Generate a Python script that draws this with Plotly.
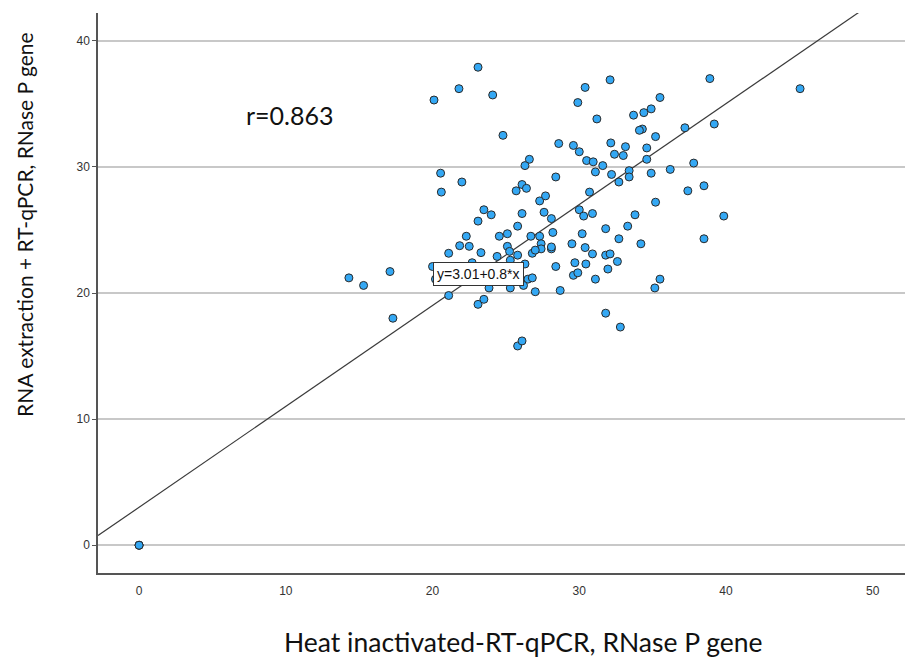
import plotly.graph_objects as go

# Heat inactivated RT-qPCR (x) vs RNA extraction + RT-qPCR (y), RNase P gene
heat_ct = [20.1, 21.8, 23.1, 24.1, 24.8, 26.6, 26.3, 20.55, 22.0, 20.6,
           26.1, 26.4, 25.7, 27.3, 27.7, 28.4, 28.6, 29.6, 30.0, 29.9,
           30.4, 32.1, 31.2, 30.5, 30.95, 31.1, 31.6, 32.2, 30.7, 32.7,
           32.15, 32.4, 33.15, 33.0, 33.4, 33.4, 33.7, 34.4, 34.9, 35.5,
           34.3, 34.1, 35.2, 34.6, 34.6, 34.9, 36.2, 37.2, 37.8, 38.9,
           39.2, 45.05, 37.4, 38.5, 35.2, 30.0, 30.3, 30.9, 28.1, 27.6,
           33.8, 31.8, 33.3, 28.2, 30.2, 32.7, 34.2, 29.5, 28.1, 28.1,
           30.4, 30.9, 31.8, 32.1, 32.6, 28.4, 29.7, 30.45, 31.95, 29.6,
           29.9, 31.1, 28.7, 35.5, 35.15, 39.85, 38.5, 31.8, 32.8, 14.3,
           15.3, 17.1, 17.3, 21.1, 23.1, 23.5, 25.8, 26.1, 27.0, 21.1,
           21.85, 22.5, 22.3, 23.3, 23.1, 23.5, 24.0, 24.55, 25.1, 25.8,
           26.1, 25.1, 25.25, 25.8, 24.4, 25.3, 26.3, 26.7, 27.3, 27.4,
           27.4, 26.8, 27.0, 26.5, 26.8, 26.2, 25.3, 23.85, 20.0, 20.2,
           22.7, 0.0, 0.0, 0.0]
extraction_ct = [35.3, 36.2, 37.9, 35.7, 32.5, 30.6, 30.1, 29.5, 28.8, 28.0,
                 28.6, 28.3, 28.1, 27.3, 27.7, 29.2, 31.85, 31.7, 31.2, 35.1,
                 36.3, 36.9, 33.8, 30.5, 30.4, 29.6, 30.1, 29.4, 28.0, 28.8,
                 31.9, 31.0, 31.6, 30.9, 29.7, 29.2, 34.1, 34.3, 34.6, 35.5,
                 33.0, 32.9, 32.4, 31.5, 30.6, 29.5, 29.8, 33.1, 30.3, 37.0,
                 33.4, 36.2, 28.1, 28.5, 27.2, 26.6, 26.1, 26.3, 25.9, 26.4,
                 26.2, 25.1, 25.3, 24.8, 24.7, 24.3, 23.9, 23.9, 23.5, 23.65,
                 23.6, 23.1, 23.0, 23.1, 22.5, 22.1, 22.4, 22.3, 21.9, 21.4,
                 21.6, 21.1, 20.2, 21.1, 20.4, 26.1, 24.3, 18.4, 17.3, 21.2,
                 20.6, 21.7, 18.0, 19.8, 19.1, 19.5, 15.8, 16.2, 20.1, 23.15,
                 23.75, 23.7, 24.5, 23.2, 25.7, 26.6, 26.2, 24.5, 24.7, 25.3,
                 26.3, 23.7, 23.3, 23.0, 22.9, 22.6, 22.3, 24.5, 24.5, 23.9,
                 23.5, 23.15, 23.4, 21.1, 21.2, 20.6, 20.4, 20.4, 22.1, 21.1,
                 22.4, 0.0, 0.0, 0.0]

fit_intercept = 3.01
fit_slope = 0.8
r_value = 0.863

x_range = [-2.8, 52.2]
y_range = [-2.2, 42.2]
x_ticks = [0, 10, 20, 30, 40, 50]
y_ticks = [0, 10, 20, 30, 40]

fit_x = x_range
fit_y = [fit_intercept + fit_slope * v for v in fit_x]

fig = go.Figure()
fig.add_trace(go.Scatter(
    x=fit_x, y=fit_y, mode="lines",
    line=dict(color="#3a3a3a", width=1.2),
    hoverinfo="skip", showlegend=False))
fig.add_trace(go.Scatter(
    x=heat_ct, y=extraction_ct, mode="markers",
    marker=dict(size=8, color="#34A8F4", line=dict(color="#2a2a2a", width=1)),
    showlegend=False))

fig.add_annotation(
    x=10.3, y=34.1, xref="x", yref="y", text=f"r={r_value}",
    showarrow=False, font=dict(family="Lato", size=25, color="#111111"))
fig.add_annotation(
    x=23.1, y=21.5, xref="x", yref="y",
    text=f"y={fit_intercept}+{fit_slope}*x",
    showarrow=False, bgcolor="white", bordercolor="#333333", borderwidth=1,
    borderpad=3, font=dict(family="Liberation Sans", size=14, color="#111111"))

fig.add_annotation(
    x=0.527, y=-0.1235, xref="paper", yref="paper",
    xanchor="center", yanchor="middle",
    text="Heat inactivated-RT-qPCR, RNase P gene",
    showarrow=False, font=dict(family="Lato", size=26.5, color="#111111"))
fig.add_annotation(
    x=-0.092, y=0.623, xref="paper", yref="paper", textangle=-90,
    xanchor="center", yanchor="middle",
    text="RNA extraction + RT-qPCR, RNase P gene",
    showarrow=False, font=dict(family="Lato", size=21, color="#111111"))

fig.update_layout(
    width=905, height=659,
    margin=dict(l=98, r=0, t=13, b=86),
    paper_bgcolor="white", plot_bgcolor="white",
    font=dict(family="Liberation Sans", size=12, color="#333333"),
)
fig.update_xaxes(
    range=x_range, tickvals=x_ticks, showgrid=False, zeroline=False,
    showline=True, linecolor="#555555", linewidth=1.5,
    ticks="", ticklabelstandoff=6)
fig.update_yaxes(
    range=y_range, tickvals=y_ticks, showgrid=True, gridcolor="#c8c8c8",
    gridwidth=1.5, zeroline=False, showline=True, linecolor="#555555",
    linewidth=1.5, ticks="outside", ticklen=4, tickcolor="#555555")

fig.write_html("out.html")
